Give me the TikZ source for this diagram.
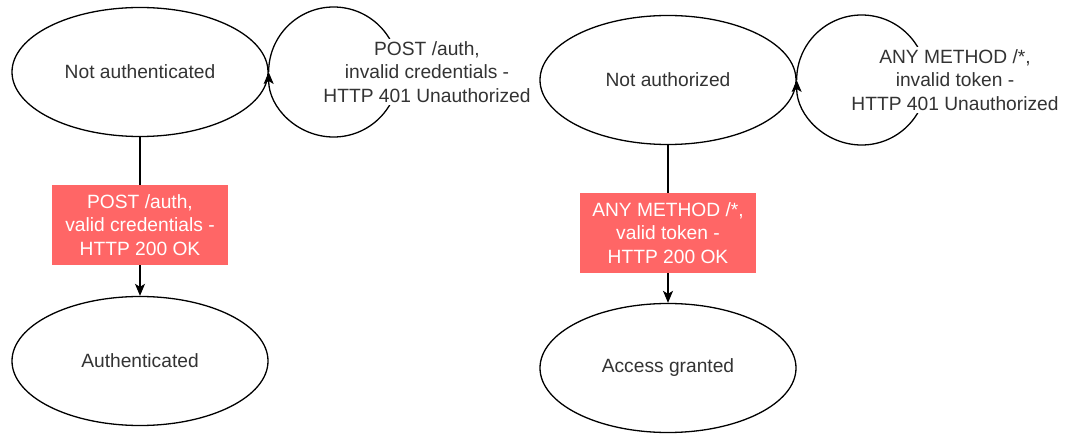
\documentclass[tikz,border=0pt]{standalone}
\usepackage{fontspec}
\setmainfont{Liberation Sans}
\usetikzlibrary{shapes.geometric,arrows.meta}
\definecolor{txtgray}{HTML}{333333}
\definecolor{labelred}{HTML}{FF6666}
\begin{document}
\begin{tikzpicture}[x=1pt,y=-1pt,
  every node/.style={font=\fontsize{19.2}{23.3}\selectfont, text=txtgray, align=center},
  state/.style={ellipse, draw=black, line width=1.3pt, minimum width=256pt, minimum height=129pt, inner sep=0pt},
  arr/.style={line width=1.3pt, -{Stealth[length=12pt,width=10pt,inset=3pt]}},
  redlabel/.style={fill=labelred, text=white, minimum width=176pt, minimum height=80pt, inner sep=2pt},
  looplabel/.style={fill=white, inner sep=3pt}]
\useasboundingbox (0,0) rectangle (1065,438);

% authentication states
\node[state] (nauthn) at (140,72) {Not authenticated};
\node[state] (authn) at (140,361) {Authenticated};

% authorization states
\node[state] (nauthz) at (668,80) {Not authorized};
\node[state] (granted) at (668,368) {Access granted};

% transitions
\draw[arr] (nauthn.south) -- (authn.north);
\draw[arr] (nauthz.south) -- (granted.north);
\draw[arr] (nauthn.east) arc[start angle=180, end angle=540, radius=65];
\draw[arr] (nauthz.east) arc[start angle=180, end angle=540, radius=65];

% transition labels
\node[redlabel] (okauth) at (140,225) {POST /auth,\\valid credentials -\\HTTP 200 OK};
\node[redlabel] (okany) at (668,233) {ANY METHOD /*,\\valid token -\\HTTP 200 OK};
\node[looplabel] (failauth) at (427,72) {POST /auth,\\invalid credentials -\\HTTP 401 Unauthorized};
\node[looplabel] (failany) at (955,80) {ANY METHOD /*,\\invalid token -\\HTTP 401 Unauthorized};
\end{tikzpicture}
\end{document}
